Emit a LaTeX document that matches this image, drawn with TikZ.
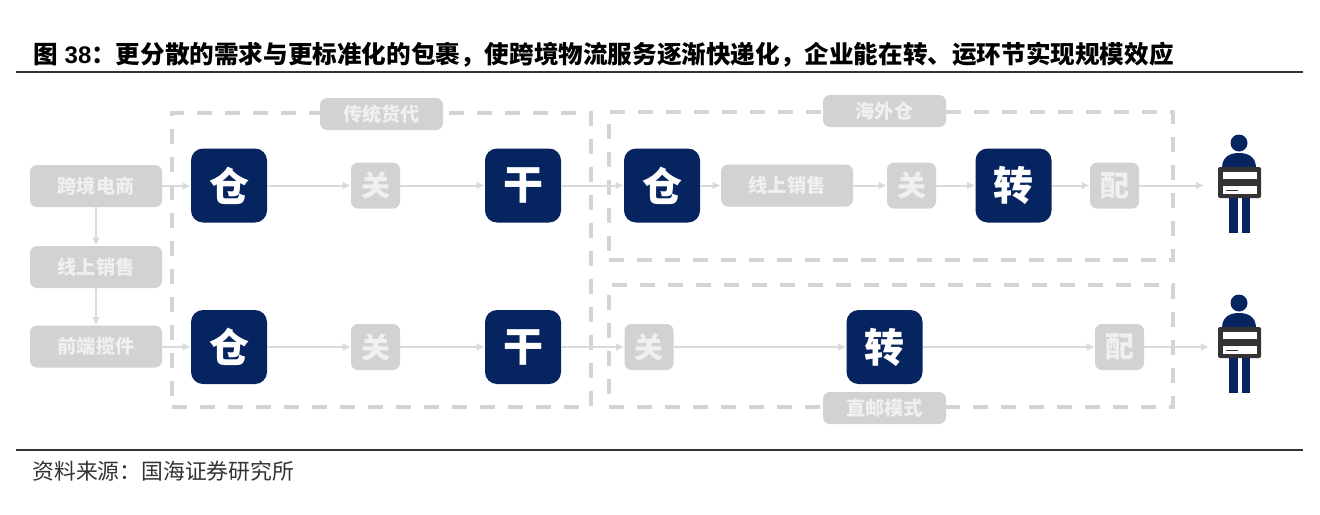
\documentclass[tikz,border=0pt]{standalone}
\usepackage{fontspec}
\usetikzlibrary{arrows.meta}
\newfontfamily\cjk{Noto Sans CJK SC}
\newfontfamily\latinfont{Liberation Sans}
\definecolor{navy}{HTML}{06245F}
\definecolor{boxgray}{HTML}{D2D2D2}
\definecolor{linegray}{HTML}{DADADA}
\definecolor{dashgray}{HTML}{D4D4D4}
\definecolor{softwhite}{HTML}{F0F0F0}
\definecolor{rulecol}{HTML}{333333}
\tikzset{
  grayitem/.style={fill=boxgray,rounded corners=3.5pt,inner sep=0pt,text=softwhite,font=\cjk\bfseries\fontsize{9.6}{11}\selectfont},
  widebox/.style={grayitem,minimum width=66pt,minimum height=21pt},
  tagbox/.style={grayitem,minimum width=61.5pt,minimum height=16pt},
  smallbox/.style={grayitem,minimum width=24.5pt,minimum height=23pt,font=\cjk\bfseries\fontsize{14.5}{16}\selectfont},
  navybox/.style={fill=navy,rounded corners=6pt,inner sep=0pt,minimum width=38pt,minimum height=37pt,text=white,font=\cjk\bfseries\fontsize{20}{22}\selectfont},
  flow/.style={draw=linegray,line width=1pt,-{Latex[length=4pt,width=4pt]}},
  dashbox/.style={draw=dashgray,line width=1.6pt,dash pattern=on 7.5pt off 6.5pt,inner sep=0pt},
  headrule/.style={draw=rulecol,line width=0.7pt},
  person/.pic={
    \begin{scope}[x=0.25pt,y=-0.25pt]
    \fill[navy] (0,-82) circle[radius=17];
    \fill[navy] (-34,-32) .. controls (-34,-56) and (-16,-62) .. (0,-62) .. controls (16,-62) and (34,-56) .. (34,-32) -- (34,0) -- (-34,0) -- cycle;
    \fill[navy] (-20,28) rectangle (-3,98);
    \fill[navy] (5,28) rectangle (22,98);
    \fill[rulecol,rounded corners=1pt] (-42,-34) rectangle (44,28);
    \fill[white] (-32,-24) rectangle (36,-10);
    \fill[white] (-32,4) rectangle (36,20);
    \fill[rulecol] (-26,11) rectangle (-2,14);
    \end{scope}
  },
}
\begin{document}
\begin{tikzpicture}[x=0.5pt,y=-0.5pt]
\useasboundingbox (0,0) rectangle (1320,514);
\fill[white] (0,0) rectangle (1320,514);
% title and rules
\node[anchor=west,inner sep=0pt,font=\bfseries] (title) at (33,55) {{\cjk\fontsize{12.3}{14}\selectfont 图}{\latinfont\fontsize{12}{14}\selectfont\ 38}{\cjk\fontsize{12.3}{14}\selectfont ：更分散的需求与更标准化的包裹，使跨境物流服务逐渐快递化，企业能在转、运环节实现规模效应}};
\coordinate (r1a) at (16,72); \coordinate (r1b) at (1303,72);
\coordinate (r2a) at (16,450); \coordinate (r2b) at (1303,450);
\draw[headrule] (r1a) -- (r1b);
\draw[headrule] (r2a) -- (r2b);
\node[anchor=west,inner sep=0pt,font=\cjk\fontsize{10.9}{13}\selectfont,text=rulecol] (src) at (32,471) {资料来源：国海证券研究所};
% connectors are drawn after the frames, nodes above both
\node[dashbox,minimum width=209.5pt,minimum height=147pt] (f1) at (381.5,260) {};
\node[dashbox,minimum width=282pt,minimum height=74pt] (f2) at (891,186) {};
\node[dashbox,minimum width=282pt,minimum height=61pt] (f3) at (891,346) {};
% nodes: left column
\node[widebox] (a1) at (96,186) {跨境电商};
\node[widebox] (a2) at (96,267) {线上销售};
\node[widebox] (a3) at (96,346.5) {前端揽件};
% upper row
\node[navybox] (b1) at (229,185.5) {仓};
\node[smallbox] (b2) at (375.5,185.5) {关};
\node[navybox] (b3) at (523,185.5) {干};
\node[navybox] (b4) at (662,185.5) {仓};
\node[widebox] (b5) at (787,185.5) {线上销售};
\node[smallbox] (b6) at (911.5,185.5) {关};
\node[navybox] (b7) at (1013.5,185.5) {转};
\node[smallbox] (b8) at (1114.5,185.5) {配};
\coordinate (p1) at (1204,185.5);
% lower row
\node[navybox] (c1) at (229,347) {仓};
\node[smallbox] (c2) at (375.5,347) {关};
\node[navybox] (c3) at (523,347) {干};
\node[smallbox] (c4) at (649,347) {关};
\node[navybox] (c5) at (884.5,347) {转};
\node[smallbox] (c6) at (1119.5,347) {配};
\coordinate (p2) at (1209,347);
% connectors
\draw[flow] (a1) -- (a2);
\draw[flow] (a2) -- (a3);
\draw[flow] (a1.east) -- (b1.west |- a1.east);
\draw[flow] (b1) -- (b2);
\draw[flow] (b2) -- (b3);
\draw[flow] (b3) -- (b4);
\draw[flow] (b4) -- (b5);
\draw[flow] (b5) -- (b6);
\draw[flow] (b6) -- (b7);
\draw[flow] (b7) -- (b8);
\draw[flow] (b8) -- (p1);
\draw[flow] (a3) -- (c1);
\draw[flow] (c1) -- (c2);
\draw[flow] (c2) -- (c3);
\draw[flow] (c3) -- (c4);
\draw[flow] (c4) -- (c5);
\draw[flow] (c5) -- (c6);
\draw[flow] (c6) -- (p2);
% tags
\node[tagbox] (t1) at (381.5,114) {传统货代};
\node[tagbox] (t2) at (884.5,111) {海外仓};
\node[tagbox] (t3) at (884.5,408) {直邮模式};
% people
\pic at (1239,184) {person};
\pic at (1239,344) {person};
\end{tikzpicture}
\end{document}
